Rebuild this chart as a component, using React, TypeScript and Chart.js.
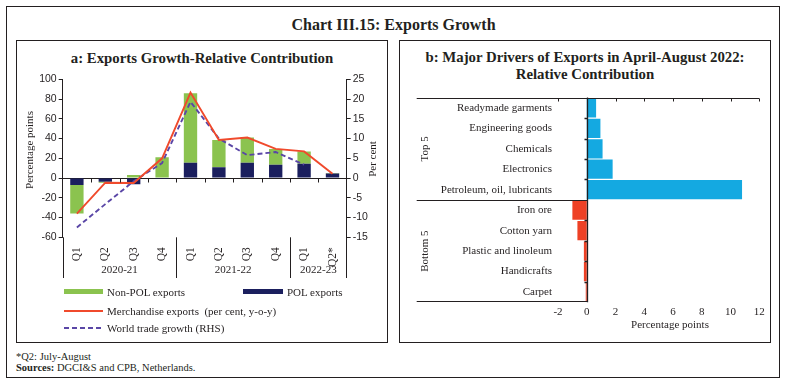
import React, { useEffect, useRef } from 'react';
import { Chart, registerables } from 'chart.js';

Chart.register(...registerables);

// ---------- Data ----------
const quarters = ['Q1', 'Q2', 'Q3', 'Q4', 'Q1', 'Q2', 'Q3', 'Q4', 'Q1', 'Q2*'];
const fiscalYears = ['2020-21', '2021-22', '2022-23'];
const fiscalYearSpans = [4, 4, 2];
const polExports = [-7, -3.7, -6.3, -1, 15.5, 11, 15.5, 13.5, 14.5, 4.5];
const nonPolExports = [-29, -1, 3, 21, 70.5, 27.5, 25.5, 16, 12.5, 0.6];
const merchandiseGrowth = [-36, -4.7, -5, 20, 86.5, 38.5, 41, 29.5, 27, 4.4];
const worldTradeGrowth = [-12.5, -6.6, -0.8, 3.8, 19.3, 10, 5.8, 6.6, 3.4, null];
const leftAxisRange = [-60, 100, 20];
const rightAxisRange = [-15, 25, 5];

const drivers = [
  'Readymade garments',
  'Engineering goods',
  'Chemicals',
  'Electronics',
  'Petroleum, oil, lubricants',
  'Iron ore',
  'Cotton yarn',
  'Plastic and linoleum',
  'Handicrafts',
  'Carpet',
];
const driverValues = [0.65, 0.95, 1.1, 1.8, 10.8, -1.0, -0.65, -0.2, -0.2, -0.07];
const driverGroups = ['Top 5', 'Bottom 5'];
const driverGroupSizes = [5, 5];
const driverAxisRange = [-2, 12, 2];

// ---------- Styles ----------
const INK = '#231F20';
const GREEN = '#8BC34F';
const NAVY = '#1B1F5E';
const RED = '#F04A2C';
const PURPLE = '#5A46A6';
const BLUE = '#14A9E1';
const RED_BAR = '#EE4125';
const SERIF = '"Liberation Serif", "DejaVu Serif", serif';
const SANS = '"Liberation Sans", Arial, sans-serif';

const leftDeco = {
  id: 'leftDeco',
  beforeDatasetsDraw(chart: any) {
    const { ctx, chartArea: a, scales } = chart;
    const y0 = Math.round(scales.y.getPixelForValue(0)) + 0.5;
    ctx.save();
    ctx.strokeStyle = INK;
    ctx.lineWidth = 1;
    ctx.beginPath();
    ctx.moveTo(a.left, y0);
    ctx.lineTo(a.right, y0);
    ctx.stroke();
    ctx.restore();
  },
  afterDraw(chart: any) {
    const { ctx, chartArea: a, scales } = chart;
    const xs = scales.x;
    const n = quarters.length;
    const boundary = (i: number) => {
      if (i <= 0) return a.left;
      if (i >= n) return a.right;
      return (xs.getPixelForValue(i - 1) + xs.getPixelForValue(i)) / 2;
    };
    const y0 = Math.round(scales.y.getPixelForValue(0)) + 0.5;
    const extBottom = 212;
    ctx.save();
    ctx.strokeStyle = INK;
    ctx.lineWidth = 1;
    ctx.beginPath();
    for (let i = 1; i < n; i++) {
      const x = Math.round(boundary(i)) + 0.5;
      ctx.moveTo(x, y0);
      ctx.lineTo(x, y0 + 4);
    }
    ctx.moveTo(Math.round(a.left) + 0.5, a.bottom);
    ctx.lineTo(Math.round(a.left) + 0.5, extBottom);
    ctx.moveTo(Math.round(a.right) - 0.5, a.bottom);
    ctx.lineTo(Math.round(a.right) - 0.5, extBottom);
    let acc = 0;
    for (let k = 0; k < fiscalYearSpans.length - 1; k++) {
      acc += fiscalYearSpans[k];
      const x = Math.round(boundary(acc)) + 0.5;
      ctx.moveTo(x, a.bottom);
      ctx.lineTo(x, extBottom);
    }
    ctx.stroke();
    ctx.fillStyle = INK;
    ctx.font = `11px ${SERIF}`;
    ctx.textAlign = 'center';
    ctx.textBaseline = 'middle';
    acc = 0;
    fiscalYears.forEach((yr, k) => {
      const x1 = boundary(acc);
      const x2 = boundary(acc + fiscalYearSpans[k]);
      ctx.fillText(yr, (x1 + x2) / 2, 204.5);
      acc += fiscalYearSpans[k];
    });
    ctx.save();
    ctx.translate(14, 84);
    ctx.rotate(-Math.PI / 2);
    ctx.fillText('Percentage points', 0, 0);
    ctx.restore();
    ctx.save();
    ctx.translate(357, 93);
    ctx.rotate(-Math.PI / 2);
    ctx.fillText('Per cent', 0, 0);
    ctx.restore();
    ctx.restore();
  },
};

const rightDeco = {
  id: 'rightDeco',
  afterDatasetsDraw(chart: any) {
    const { ctx, chartArea: a, scales } = chart;
    const xs = scales.x;
    const ys = scales.y;
    const n = drivers.length;
    const startX = 17.7;
    const x0 = Math.round(xs.getPixelForValue(0)) + 0.5;
    const boundary = (i: number) => {
      if (i <= 0) return a.top;
      if (i >= n) return a.bottom;
      return (ys.getPixelForValue(i - 1) + ys.getPixelForValue(i)) / 2;
    };
    ctx.save();
    ctx.strokeStyle = INK;
    ctx.lineWidth = 1;
    ctx.beginPath();
    const top = Math.round(a.top) + 0.5;
    ctx.moveTo(startX, top);
    ctx.lineTo(a.right, top);
    for (let v = driverAxisRange[0]; v <= driverAxisRange[1]; v += driverAxisRange[2]) {
      if (v === 0) continue;
      const x = Math.round(xs.getPixelForValue(v)) + 0.5;
      ctx.moveTo(x, top);
      ctx.lineTo(x, top + 3);
    }
    const mid = Math.round(boundary(driverGroupSizes[0])) + 0.5;
    ctx.moveTo(startX, mid);
    ctx.lineTo(x0, mid);
    const bot = Math.round(a.bottom) - 0.5;
    ctx.moveTo(startX, bot);
    ctx.lineTo(x0, bot);
    ctx.stroke();
    ctx.beginPath();
    ctx.lineWidth = 1.3;
    ctx.moveTo(x0, a.top);
    ctx.lineTo(x0, a.bottom);
    for (let i = 1; i < n; i++) {
      if (i === driverGroupSizes[0]) continue;
      const y = Math.round(boundary(i)) + 0.5;
      ctx.moveTo(x0, y);
      ctx.lineTo(x0 - 3, y);
    }
    ctx.stroke();
    ctx.fillStyle = INK;
    ctx.font = `11px ${SERIF}`;
    ctx.textAlign = 'center';
    ctx.textBaseline = 'middle';
    let acc = 0;
    driverGroups.forEach((g, k) => {
      const y1 = boundary(acc);
      const y2 = boundary(acc + driverGroupSizes[k]);
      ctx.save();
      ctx.translate(26, (y1 + y2) / 2);
      ctx.rotate(-Math.PI / 2);
      ctx.fillText(g, 0, 0);
      ctx.restore();
      acc += driverGroupSizes[k];
    });
    ctx.fillText('Percentage points', 271, 240);
    ctx.restore();
  },
};

function LeftChart() {
  const ref = useRef<HTMLCanvasElement | null>(null);
  useEffect(() => {
    if (!ref.current) return;
    const chart = new Chart(ref.current, {
      type: 'bar',
      data: {
        labels: quarters,
        datasets: [
          {
            type: 'line',
            label: 'Merchandise exports (per cent, y-o-y)',
            data: merchandiseGrowth,
            borderColor: RED,
            borderWidth: 1.9,
            pointRadius: 0,
            yAxisID: 'y',
            order: 0,
            stack: 'merch',
            tension: 0,
          } as any,
          {
            type: 'line',
            label: 'World trade growth (RHS)',
            data: worldTradeGrowth,
            borderColor: PURPLE,
            borderWidth: 1.9,
            borderDash: [5, 3],
            pointRadius: 0,
            yAxisID: 'y1',
            order: 0,
            stack: 'world',
            tension: 0,
          } as any,
          {
            type: 'bar',
            label: 'POL exports',
            data: polExports,
            backgroundColor: NAVY,
            yAxisID: 'y',
            order: 1,
            stack: 'bars',
            barPercentage: 0.47,
            categoryPercentage: 1,
          } as any,
          {
            type: 'bar',
            label: 'Non-POL exports',
            data: nonPolExports,
            backgroundColor: GREEN,
            yAxisID: 'y',
            order: 1,
            stack: 'bars',
            barPercentage: 0.47,
            categoryPercentage: 1,
          } as any,
        ],
      },
      options: {
        responsive: false,
        animation: false,
        layout: { padding: { top: 13.3, left: 0, right: 0, bottom: 0 } },
        plugins: { legend: { display: false }, tooltip: { enabled: false } },
        scales: {
          x: {
            stacked: true,
            grid: { display: false, drawTicks: false },
            border: { display: false },
            ticks: {
              color: INK,
              font: { family: SERIF, size: 11.5 },
              minRotation: 90,
              maxRotation: 90,
              autoSkip: false,
              padding: 10,
            },
            afterFit: (s: any) => {
              s.height = 48.7;
            },
          },
          y: {
            stacked: true,
            position: 'left',
            min: leftAxisRange[0],
            max: leftAxisRange[1],
            grid: { display: true, drawOnChartArea: false, drawTicks: true, tickLength: 4, color: INK },
            border: { display: true, color: INK },
            ticks: { stepSize: leftAxisRange[2], color: INK, font: { family: SANS, size: 10.5 }, padding: 2 },
            afterFit: (s: any) => {
              s.width = 46.7;
            },
          },
          y1: {
            position: 'right',
            min: rightAxisRange[0],
            max: rightAxisRange[1],
            grid: { display: true, drawOnChartArea: false, drawTicks: true, tickLength: 4, color: INK },
            border: { display: true, color: INK },
            ticks: { stepSize: rightAxisRange[2], color: INK, font: { family: SANS, size: 10.5 }, padding: 2 },
            afterFit: (s: any) => {
              s.width = 41.3;
            },
          },
        },
      },
      plugins: [leftDeco],
    } as any);
    return () => chart.destroy();
  }, []);
  return <canvas ref={ref} width={372} height={220} style={{ position: 'absolute', left: 16, top: 66 }} />;
}

function RightChart() {
  const ref = useRef<HTMLCanvasElement | null>(null);
  useEffect(() => {
    if (!ref.current) return;
    const colors: string[] = [];
    driverGroupSizes.forEach((sz, k) => {
      for (let i = 0; i < sz; i++) colors.push(k === 0 ? BLUE : RED_BAR);
    });
    const chart = new Chart(ref.current, {
      type: 'bar',
      data: {
        labels: drivers,
        datasets: [
          {
            data: driverValues,
            backgroundColor: colors,
            barPercentage: 0.94,
            categoryPercentage: 1,
          },
        ],
      },
      options: {
        indexAxis: 'y',
        responsive: false,
        animation: false,
        layout: { padding: { top: 10.7, right: 11.7, left: 0, bottom: 0 } },
        plugins: { legend: { display: false }, tooltip: { enabled: false } },
        scales: {
          x: {
            min: driverAxisRange[0],
            max: driverAxisRange[1],
            grid: { display: false, drawTicks: false },
            border: { display: false },
            ticks: { stepSize: driverAxisRange[2], color: INK, font: { family: SERIF, size: 11 }, padding: 3 },
            afterFit: (s: any) => {
              s.height = 32.7;
            },
          },
          y: {
            grid: { display: false, drawTicks: false },
            border: { display: false },
            ticks: { color: INK, font: { family: SERIF, size: 11 }, padding: 6, autoSkip: false },
            afterFit: (s: any) => {
              s.width = 159;
            },
          },
        },
      },
      plugins: [rightDeco],
    } as any);
    return () => chart.destroy();
  }, []);
  return <canvas ref={ref} width={372} height={250} style={{ position: 'absolute', left: 399, top: 85 }} />;
}

const abs = (s: React.CSSProperties): React.CSSProperties => ({ position: 'absolute', ...s });

export default function App() {
  const text: React.CSSProperties = { fontFamily: SERIF, color: INK, whiteSpace: 'pre' };
  return (
    <div style={abs({ left: 0, top: 0, width: 787, height: 386, background: '#fff', overflow: 'hidden' })}>
      <div style={abs({ left: 6, top: 6, width: 774, height: 372, border: `1.5px solid ${INK}`, boxSizing: 'border-box' })} />
      <div style={abs({ ...text, left: 0, top: 14.6, width: 787, textAlign: 'center', fontSize: 16, lineHeight: '20px', fontWeight: 'bold' })}>
        Chart III.15: Exports Growth
      </div>
      <div style={abs({ left: 16, top: 40, width: 372, height: 303, border: `1.5px solid ${INK}`, boxSizing: 'border-box' })} />
      <div style={abs({ left: 399, top: 40, width: 372, height: 303, border: `1.5px solid ${INK}`, boxSizing: 'border-box' })} />
      <div style={abs({ ...text, left: 16, top: 50, width: 372, textAlign: 'center', fontSize: 14.8, lineHeight: '17px', fontWeight: 'bold' })}>
        a: Exports Growth-Relative Contribution
      </div>
      <div style={abs({ ...text, left: 399, top: 48.9, width: 372, textAlign: 'center', fontSize: 14.8, lineHeight: '17px', fontWeight: 'bold' })}>
        {'b: Major Drivers of Exports in April-August 2022:\nRelative Contribution'}
      </div>
      <LeftChart />
      <RightChart />
      <div style={abs({ left: 64, top: 289.2, width: 39, height: 5, background: GREEN })} />
      <div style={abs({ ...text, left: 107, top: 284.5, fontSize: 11, lineHeight: '14px' })}>Non-POL exports</div>
      <div style={abs({ left: 243, top: 289.2, width: 40, height: 5, background: NAVY })} />
      <div style={abs({ ...text, left: 287, top: 284.5, fontSize: 11, lineHeight: '14px' })}>POL exports</div>
      <div style={abs({ left: 64, top: 309.7, width: 39, height: 2, background: RED })} />
      <div style={abs({ ...text, left: 107, top: 303.5, fontSize: 11, lineHeight: '14px' })}>
        Merchandise exports  (per cent, y-o-y)
      </div>
      <svg style={abs({ left: 64, top: 325.7 })} width={40} height={4}>
        <line x1={0} y1={2} x2={39} y2={2} stroke={PURPLE} strokeWidth={2} strokeDasharray="5,3" />
      </svg>
      <div style={abs({ ...text, left: 107, top: 320.5, fontSize: 11, lineHeight: '14px' })}>World trade growth (RHS)</div>
      <div style={abs({ ...text, left: 16, top: 349.5, fontSize: 10.5, lineHeight: '14px' })}>*Q2: July-August</div>
      <div style={abs({ ...text, left: 16, top: 361, fontSize: 10.5, lineHeight: '14px' })}>
        <b>Sources:</b> DGCI&amp;S and CPB, Netherlands.
      </div>
    </div>
  );
}
